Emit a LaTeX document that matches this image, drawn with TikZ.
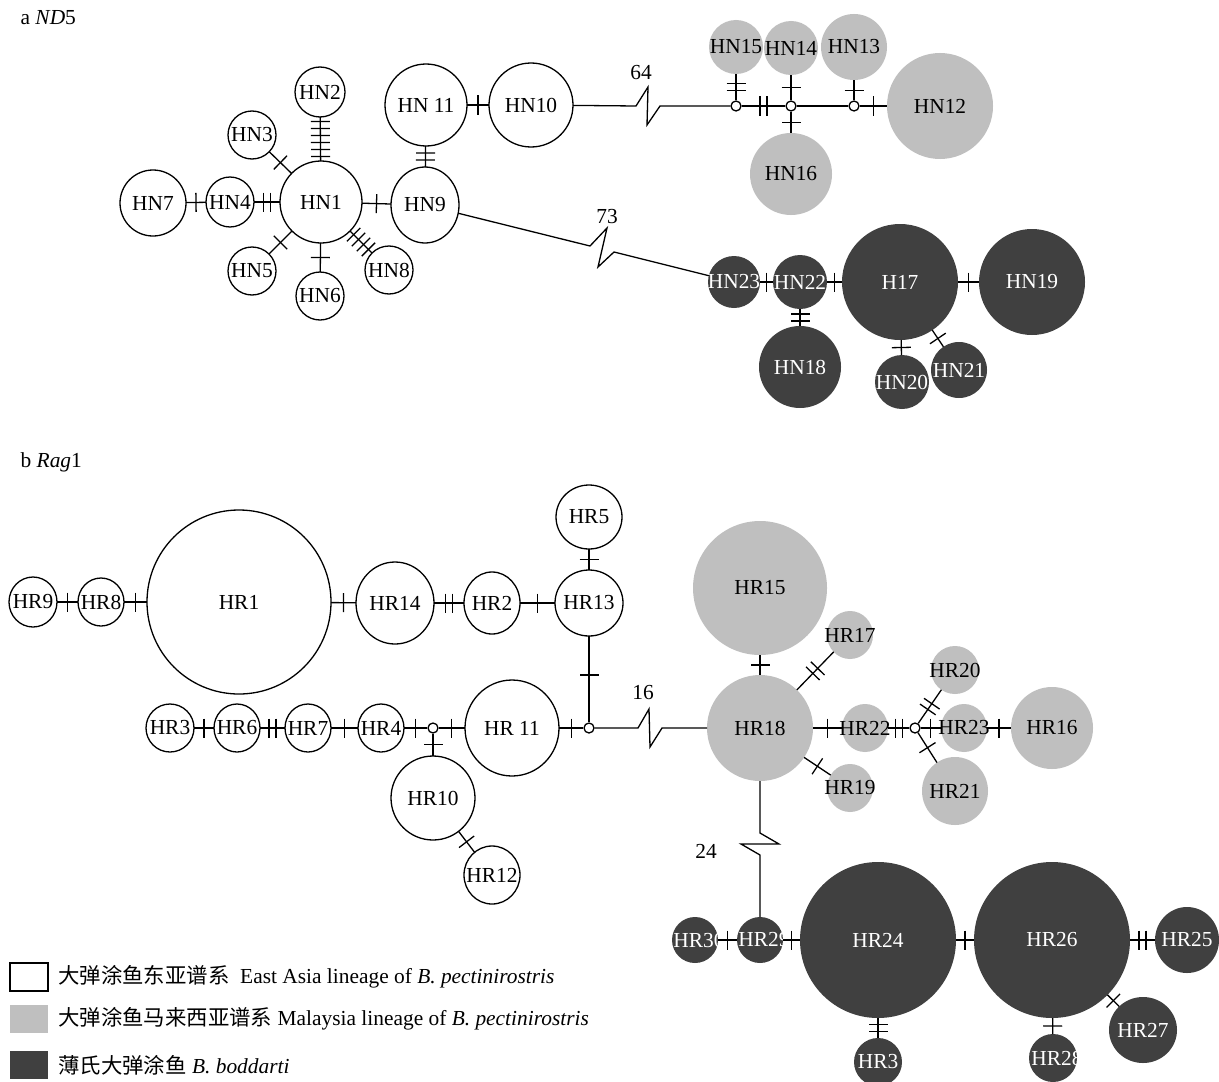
\documentclass[tikz,border=0pt]{standalone}
\usepackage{fontspec}
\setmainfont{Liberation Serif}
\newfontfamily\cjk{Noto Sans CJK SC}
\usetikzlibrary{positioning, shapes.geometric}
\definecolor{lgrey}{RGB}{191,191,191}
\definecolor{dgrey}{RGB}{64,64,64}

\begin{document}
\begin{tikzpicture}[
    x=0.5pt, y=-0.5pt,
    line width=0.65pt,
    font=\fontsize{10.7}{12}\selectfont,
    hap/.style={ellipse, inner sep=0pt, outer sep=0pt},
    sz/.style 2 args={minimum width=#1pt, minimum height=#2pt},
    ea/.style={hap, draw, fill=white, label=center:{#1}},
    my/.style={hap, fill=lgrey, label=center:{#1}},
    bd/.style={hap, fill=dgrey, label={[text=white]center:{#1}}},
    mv/.style={circle, draw, fill=white, inner sep=0pt, minimum size=5pt},
    key/.style={minimum width=19pt, minimum height=14pt, inner sep=0pt},
    mut/.pic={\foreach \k in {1,...,#1} \draw ({(\k-(#1+1)/2)*7},-9.5) -- ++(0,19);}
]{
    \fill[white] (0,0) rectangle (1219,1081);
    \clip (0,0) rectangle (1219,1081);

    % a ND5
    \node[anchor=west, inner sep=0pt] (title_a) at (20,18) {a \textit{ND}5};

    \node[ea=HN1, sz={41}{41}] (hn_1) at (321,202) {};
    \node[ea=HN2, sz={25}{25}] (hn_2) at (320,92) {};
    \node[ea=HN3, sz={24}{24}] (hn_3) at (252,135) {};
    \node[ea=HN4, sz={24}{25}] (hn_4) at (230,202) {};
    \node[ea=HN5, sz={24}{24}] (hn_5) at (252,271) {};
    \node[ea=HN6, sz={24}{24}] (hn_6) at (320,296) {};
    \node[ea=HN7, sz={33}{33}] (hn_7) at (153,203) {};
    \node[ea=HN8, sz={24}{24}] (hn_8) at (389,270) {};
    \node[ea=HN9, sz={34}{38}] (hn_9) at (425,205) {};
    \node[ea={HN 11}, sz={41}{41}] (hn_11) at (426,105) {};
    \node[ea=HN10, sz={42}{42}] (hn_10) at (531,105) {};

    \node[my=HN15, sz={27}{27}] (hn_15) at (736,47) {};
    \node[my=HN14, sz={27}{27}] (hn_14) at (791,48) {};
    \node[my=HN13, sz={33}{33}] (hn_13) at (854,47) {};
    \node[my=HN12, sz={53}{53}] (hn_12) at (940,106) {};
    \node[my=HN16, sz={41}{41}] (hn_16) at (791,174) {};
    \node[mv] (mv_1) at (736,106) {};
    \node[mv] (mv_2) at (791,106) {};
    \node[mv] (mv_3) at (854,106) {};

    \node[bd=HN23, sz={26}{26}] (hn_23) at (734,282) {};
    \node[bd=HN22, sz={27}{27}] (hn_22) at (800,282) {};
    \node[bd=H17, sz={58}{58}] (h_17) at (900,282) {};
    \node[bd=HN19, sz={53}{53}] (hn_19) at (1032,282) {};
    \node[bd=HN18, sz={41}{41}] (hn_18) at (800,367) {};
    \node[bd=HN20, sz={27}{27}] (hn_20) at (902,382) {};
    \node[bd=HN21, sz={28}{28}] (hn_21) at (959,370) {};

    \draw (hn_1) -- (hn_2) pic[pos=.5, sloped]{mut=6};
    \draw (hn_1) -- (hn_3) pic[pos=.5, sloped]{mut=1};
    \draw (hn_1) -- (hn_4) pic[pos=.5, sloped]{mut=2};
    \draw (hn_4) -- (hn_7) pic[pos=.5, sloped]{mut=1};
    \draw (hn_1) -- (hn_5) pic[pos=.5, sloped]{mut=1};
    \draw (hn_1) -- (hn_6) pic[pos=.5, sloped]{mut=1};
    \draw (hn_1) -- (hn_8) pic[pos=.5, sloped]{mut=4};
    \draw (hn_1) -- (hn_9) pic[pos=.5, sloped]{mut=1};
    \draw (hn_9) -- (hn_11) pic[pos=.5, sloped]{mut=2};
    \draw (hn_11) -- (hn_10) pic[pos=.5, sloped]{mut=1};

    \coordinate (brk_64) at (636,106);
    \draw (hn_10) -- (brk_64) -- ++(12,-19) -- ++(-1,38) -- ++(13,-19) -- (mv_1);
    \node (num_64) at (641,73) {64};
    \draw (mv_1) -- (hn_15) pic[pos=.5, sloped]{mut=2};
    \draw (mv_1) -- (mv_2) pic[pos=.5, sloped]{mut=2};
    \draw (mv_2) -- (hn_14) pic[pos=.5, sloped]{mut=1};
    \draw (mv_2) -- (hn_16) pic[pos=.5, sloped]{mut=1};
    \draw (mv_2) -- (mv_3);
    \draw (mv_3) -- (hn_13) pic[pos=.5, sloped]{mut=1};
    \draw (mv_3) -- (hn_12) pic[pos=.5, sloped]{mut=1};

    \coordinate (brk_73) at (590,246);
    \draw (hn_9) -- (brk_73) -- ++(17,-18) -- ++(-9,39) -- ++(16,-15) -- (hn_23);
    \node (num_73) at (607,217) {73};
    \draw (hn_23) -- (hn_22) pic[pos=.5, sloped]{mut=1};
    \draw (hn_22) -- (h_17) pic[pos=.5, sloped]{mut=1};
    \draw (h_17) -- (hn_19) pic[pos=.5, sloped]{mut=1};
    \draw (hn_22) -- (hn_18) pic[pos=.5, sloped]{mut=2};
    \draw (h_17) -- (hn_20) pic[pos=.5, sloped]{mut=1};
    \draw (h_17) -- (hn_21) pic[pos=.5, sloped]{mut=1};

    % b Rag1
    \node[anchor=west, inner sep=0pt] (title_b) at (20,462) {b \textit{Rag}1};

    \node[ea=HR9, sz={24}{25}] (hr_9) at (33,602) {};
    \node[ea=HR8, sz={23}{24}] (hr_8) at (101,602) {};
    \node[ea=HR1, sz={92}{92}] (hr_1) at (239,602) {};
    \node[ea=HR14, sz={39}{41}] (hr_14) at (395,603) {};
    \node[ea=HR2, sz={28}{31}] (hr_2) at (492,603) {};
    \node[ea=HR13, sz={34}{33}] (hr_13) at (589,603) {};
    \node[ea=HR5, sz={33}{32}] (hr_5) at (589,517) {};
    \node[ea=HR3, sz={24}{24}] (hr_3) at (170,728) {};
    \node[ea=HR6, sz={23}{24}] (hr_6) at (237,728) {};
    \node[ea=HR7, sz={23}{24}] (hr_7) at (308,728) {};
    \node[ea=HR4, sz={23}{24}] (hr_4) at (381,728) {};
    \node[ea={HR 11}, sz={47}{48}] (hr_11) at (512,728) {};
    \node[ea=HR10, sz={42}{42}] (hr_10) at (433,798) {};
    \node[ea=HR12, sz={28}{29}] (hr_12) at (492,875) {};
    \node[mv] (mv_4) at (433,728) {};
    \node[mv] (mv_5) at (589,728) {};

    \node[my=HR15, sz={67}{67}] (hr_15) at (760,588) {};
    \node[my=HR18, sz={53}{53}] (hr_18) at (760,728) {};
    \node[my=HR17, sz={23}{24}] (hr_17) at (850,635) {};
    \node[my=HR22, sz={23}{24}] (hr_22) at (865,728) {};
    \node[my=HR19, sz={23}{24}] (hr_19) at (850,788) {};
    \node[my=HR20, sz={24}{24}] (hr_20) at (955,670) {};
    \node[my=HR23, sz={23}{24}] (hr_23) at (964,728) {};
    \node[my=HR21, sz={33}{34}] (hr_21) at (955,791) {};
    \node[my=HR16, sz={41}{41}] (hr_16) at (1052,728) {};
    \node[mv] (mv_6) at (915,728) {};

    \node[hap, fill=dgrey, sz={23}{23}, label={[text=white, xshift=2pt]center:HR30}] (hr_30) at (695,940) {};
    \node[hap, fill=dgrey, sz={23}{23}, label={[text=white, xshift=2pt]center:HR29}] (hr_29) at (760,940) {};
    \node[bd=HR24, sz={78}{78}] (hr_24) at (878,940) {};
    \node[bd=HR26, sz={78}{78}] (hr_26) at (1052,940) {};
    \node[bd=HR25, sz={32}{33}] (hr_25) at (1187,940) {};
    \node[bd=HR27, sz={34}{33}] (hr_27) at (1143,1030) {};
    \node[bd=HR3, sz={24}{24}] (hr_3b) at (878,1062) {};
    \node[hap, fill=dgrey, sz={24}{24}, label={[text=white, xshift=2pt]center:HR28}] (hr_28) at (1053,1058) {};

    \draw (hr_9) -- (hr_8) pic[pos=.5, sloped]{mut=1};
    \draw (hr_8) -- (hr_1) pic[pos=.5, sloped]{mut=1};
    \draw (hr_1) -- (hr_14) pic[pos=.5, sloped]{mut=1};
    \draw (hr_14) -- (hr_2) pic[pos=.5, sloped]{mut=2};
    \draw (hr_2) -- (hr_13) pic[pos=.5, sloped]{mut=1};
    \draw (hr_13) -- (hr_5) pic[pos=.5, sloped]{mut=1};
    \draw (hr_13) -- (mv_5) pic[pos=.45, sloped]{mut=1};
    \draw (hr_3) -- (hr_6) pic[pos=.5, sloped]{mut=1};
    \draw (hr_6) -- (hr_7) pic[pos=.5, sloped]{mut=2};
    \draw (hr_7) -- (hr_4) pic[pos=.5, sloped]{mut=1};
    \draw (hr_4) -- (mv_4) pic[pos=.5, sloped]{mut=1};
    \draw (mv_4) -- (hr_11) pic[pos=.5, sloped]{mut=1};
    \draw (hr_11) -- (mv_5) pic[pos=.5, sloped]{mut=1};
    \draw (mv_4) -- (hr_10) pic[pos=.5, sloped]{mut=1};
    \draw (hr_10) -- (hr_12) pic[pos=.5, sloped]{mut=1};

    \coordinate (brk_16) at (638,728);
    \draw (mv_5) -- (brk_16) -- ++(11,-19) -- ++(1,38) -- ++(12,-19) -- (hr_18);
    \node (num_16) at (643,693) {16};
    \draw (hr_15) -- (hr_18) pic[pos=.5, sloped]{mut=1};
    \draw (hr_18) -- (hr_17) pic[pos=.5, sloped]{mut=2};
    \draw (hr_18) -- (hr_22) pic[pos=.5, sloped]{mut=1};
    \draw (hr_18) -- (hr_19) pic[pos=.5, sloped]{mut=1};
    \draw (hr_22) -- (mv_6) pic[pos=.5, sloped]{mut=2};
    \draw (mv_6) -- (hr_20) pic[pos=.5, sloped]{mut=2};
    \draw (mv_6) -- (hr_23) pic[pos=.5, sloped]{mut=1};
    \draw (mv_6) -- (hr_21) pic[pos=.5, sloped]{mut=1};
    \draw (hr_23) -- (hr_16) pic[pos=.5, sloped]{mut=1};

    \coordinate (brk_24) at (760,833);
    \draw (hr_18) -- (brk_24) -- ++(19,11) -- ++(-38,0) -- ++(19,11) -- (hr_29);
    \node (num_24) at (706,851) {24};
    \draw (hr_30) -- (hr_29) pic[pos=.5, sloped]{mut=1};
    \draw (hr_29) -- (hr_24) pic[pos=.5, sloped]{mut=1};
    \draw (hr_24) -- (hr_26) pic[pos=.5, sloped]{mut=1};
    \draw (hr_26) -- (hr_25) pic[pos=.5, sloped]{mut=2};
    \draw (hr_24) -- (hr_3b) pic[pos=.5, sloped]{mut=2};
    \draw (hr_26) -- (hr_28) pic[pos=.5, sloped]{mut=1};
    \draw (hr_26) -- (hr_27) pic[pos=.5, sloped]{mut=1};

    % legend
    \node[key, draw, fill=white] (key_east) at (29,977) {};
    \node[key, fill=lgrey] (key_malay) at (29,1019) {};
    \node[key, fill=dgrey] (key_bodd) at (29,1065) {};
    \node[right=4.5pt of key_east, inner sep=0pt] (txt_east) {{\cjk 大弹涂鱼东亚谱系}\ \ East Asia lineage of \textit{B. pectinirostris}};
    \node[right=4.5pt of key_malay, inner sep=0pt] (txt_malay) {{\cjk 大弹涂鱼马来西亚谱系} Malaysia lineage of \textit{B. pectinirostris}};
    \node[right=4.5pt of key_bodd, inner sep=0pt] (txt_bodd) {{\cjk 薄氏大弹涂鱼} \textit{B. boddarti}};
}
\end{tikzpicture}
\end{document}
